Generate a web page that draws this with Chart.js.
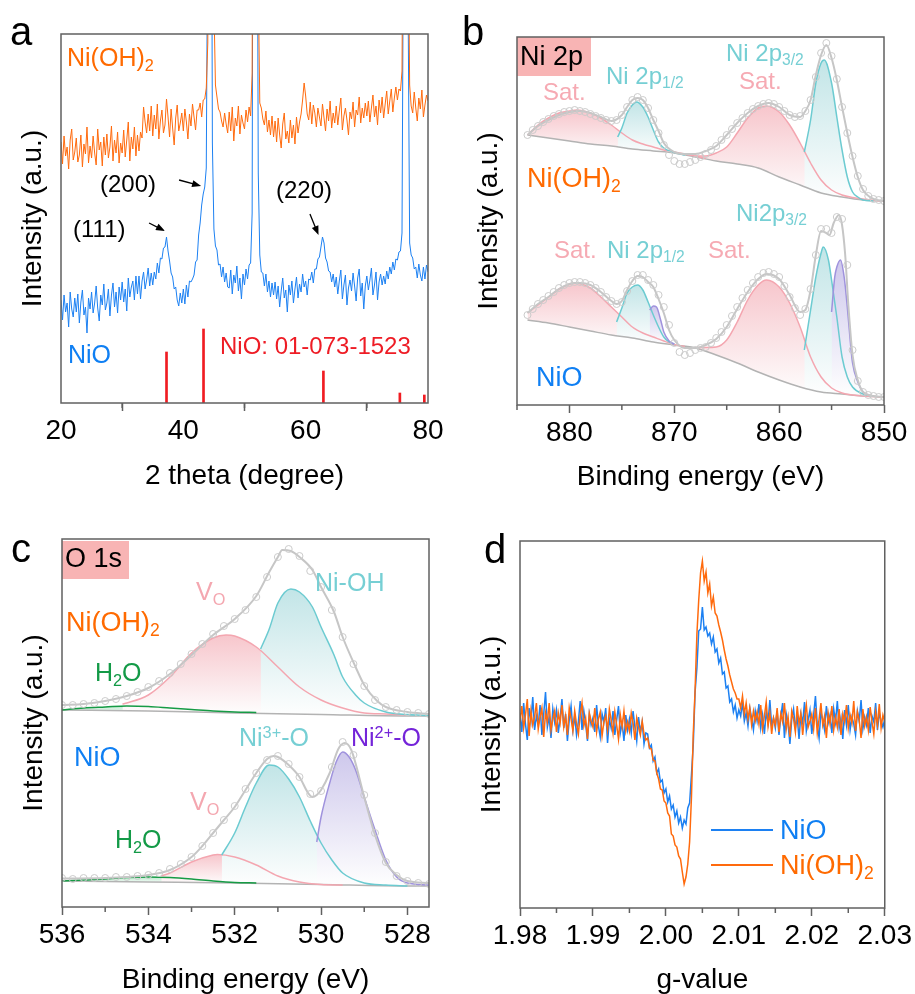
<!DOCTYPE html>
<html>
<head>
<meta charset="utf-8">
<script src="https://cdn.jsdelivr.net/npm/chart.js@4.4.0/dist/chart.umd.min.js"></script>
<style>
body { margin: 0; background: #fff; }
#fig { position: relative; width: 915px; height: 994px; font-family: "Liberation Sans", Arial, sans-serif; overflow: hidden; }
canvas { position: absolute; left: 0; top: 0; }
.t { position: absolute; line-height: 1; white-space: nowrap; }
.t sub, .t sup { font-size: 0.65em; line-height: 0; position: relative; vertical-align: baseline; }
.t sub { top: 0.28em; }
.t sup { top: -0.5em; }
.box { position: absolute; background: #f8b4b4; }
.leg { position: absolute; height: 2px; }
</style>
</head>
<body>
<div id="fig">
  <div class="box" style="left:517px;top:37px;width:74px;height:39px;"></div>
  <div class="box" style="left:62px;top:541px;width:67px;height:38px;"></div>
  <canvas id="chartA" width="915" height="994"></canvas>
  <canvas id="chartB" width="915" height="994"></canvas>
  <canvas id="chartC" width="915" height="994"></canvas>
  <canvas id="chartD" width="915" height="994"></canvas>

  <!-- panel a -->
  <div class="t" style="left:10px;top:11px;font-size:40px;color:#000;">a</div>
  <div class="t" style="left:67px;top:45px;font-size:25px;color:#ff6a00;">Ni(OH)<sub>2</sub></div>
  <div class="t" style="left:100px;top:172px;font-size:24px;color:#000;">(200)</div>
  <div class="t" style="left:276px;top:178px;font-size:24px;color:#000;">(220)</div>
  <div class="t" style="left:73px;top:217px;font-size:24px;color:#000;">(111)</div>
  <div class="t" style="left:68px;top:342px;font-size:25px;color:#0f7ff3;">NiO</div>
  <div class="t" style="left:220px;top:334px;font-size:24px;color:#ee1c25;">NiO: 01-073-1523</div>

  <!-- panel b -->
  <div class="t" style="left:462px;top:11px;font-size:40px;color:#000;">b</div>
  <div class="t" style="left:520px;top:43px;font-size:27px;color:#000;">Ni 2p</div>
  <div class="t" style="left:543px;top:80px;font-size:24px;color:#f6aab3;">Sat.</div>
  <div class="t" style="left:606px;top:64px;font-size:24px;color:#76cfd4;">Ni 2p<sub>1/2</sub></div>
  <div class="t" style="left:726px;top:41px;font-size:24px;color:#76cfd4;">Ni 2p<sub>3/2</sub></div>
  <div class="t" style="left:739px;top:69px;font-size:24px;color:#f6aab3;">Sat.</div>
  <div class="t" style="left:527px;top:165px;font-size:27px;color:#ff6a00;">Ni(OH)<sub>2</sub></div>
  <div class="t" style="left:736px;top:201px;font-size:24px;color:#76cfd4;">Ni2p<sub>3/2</sub></div>
  <div class="t" style="left:554px;top:238px;font-size:24px;color:#f6aab3;">Sat.</div>
  <div class="t" style="left:607px;top:238px;font-size:24px;color:#76cfd4;">Ni 2p<sub>1/2</sub></div>
  <div class="t" style="left:708px;top:238px;font-size:24px;color:#f6aab3;">Sat.</div>
  <div class="t" style="left:536px;top:364px;font-size:27px;color:#0f7ff3;">NiO</div>

  <!-- panel c -->
  <div class="t" style="left:11px;top:528px;font-size:40px;color:#000;">c</div>
  <div class="t" style="left:65px;top:545px;font-size:27px;color:#000;">O 1s</div>
  <div class="t" style="left:196px;top:579px;font-size:25px;color:#f4a7b0;">V<sub>O</sub></div>
  <div class="t" style="left:315px;top:570px;font-size:25px;color:#76cfd4;">Ni-OH</div>
  <div class="t" style="left:66px;top:609px;font-size:27px;color:#ff6a00;">Ni(OH)<sub>2</sub></div>
  <div class="t" style="left:95px;top:660px;font-size:25px;color:#139a47;">H<sub>2</sub>O</div>
  <div class="t" style="left:239px;top:725px;font-size:25px;color:#76cfd4;">Ni<sup>3+</sup>-O</div>
  <div class="t" style="left:351px;top:725px;font-size:25px;color:#7424d9;">Ni<sup>2+</sup>-O</div>
  <div class="t" style="left:74px;top:744px;font-size:27px;color:#0f7ff3;">NiO</div>
  <div class="t" style="left:190px;top:789px;font-size:25px;color:#f4a7b0;">V<sub>O</sub></div>
  <div class="t" style="left:115px;top:827px;font-size:25px;color:#139a47;">H<sub>2</sub>O</div>

  <!-- panel d -->
  <div class="t" style="left:484px;top:529px;font-size:40px;color:#000;">d</div>
  <div class="leg" style="left:711px;top:829px;width:62px;background:#1c80f2;"></div>
  <div class="leg" style="left:711px;top:864px;width:62px;background:#ff6a0d;"></div>
  <div class="t" style="left:780px;top:817px;font-size:27px;color:#0f7ff3;">NiO</div>
  <div class="t" style="left:780px;top:852px;font-size:27px;color:#ff6a00;">Ni(OH)<sub>2</sub></div>
</div>

<script>
// ---------- panel a : XRD (2 theta 20..80, step 0.25) ----------
const xrdStart = 20, xrdStep = 0.25;
const xrdNiOH = [
  261, 239, 267, 247, 256, 234, 263, 274, 243, 251,
  265, 241, 248, 268, 236, 259, 249, 276, 240, 257,
  245, 267, 250, 238, 274, 253, 261, 237, 266, 248,
  269, 245, 256, 277, 242, 263, 250, 271, 240, 260,
  250, 273, 246, 263, 281, 242, 266, 254, 276, 247,
  268, 252, 271, 265, 296, 281, 270, 289, 272, 297,
  267, 288, 274, 299, 264, 282, 293, 270, 278, 304,
  286, 266, 294, 275, 258, 285, 298, 272, 280, 290,
  272, 294, 281, 264, 289, 277, 299, 286, 273, 293,
  293, 300, 286, 303, 304, 315, 360, 900, 900, 700,
  400, 318, 306, 294, 291, 282, 276, 290, 279, 270,
  291, 272, 296, 262, 285, 277, 297, 269, 288, 280,
  274, 293, 281, 296, 287, 330, 900, 900, 900, 420,
  300, 295, 284, 278, 292, 271, 283, 268, 287, 266,
  282, 261, 285, 268, 255, 279, 290, 264, 272, 260,
  283, 265, 278, 259, 286, 270, 281, 289, 303, 320,
  307, 289, 283, 301, 279, 298, 290, 276, 295, 286,
  277, 299, 285, 272, 294, 282, 302, 275, 290, 280,
  297, 278, 292, 305, 273, 287, 295, 283, 268, 291,
  284, 301, 276, 293, 288, 306, 280, 295, 285, 300,
  287, 302, 281, 295, 308, 286, 297, 278, 303, 290,
  306, 285, 299, 312, 289, 302, 314, 291, 305, 316,
  303, 314, 312, 332, 600, 900, 900, 500, 318, 297,
  290, 311, 295, 282, 305, 294, 313, 286, 298, 308,
  302
];
const xrdNiO = [
  103, 83, 108, 91, 100, 76, 111, 94, 86, 105,
  91, 109, 80, 101, 113, 88, 96, 70, 105, 94,
  111, 90, 100, 117, 95, 82, 108, 98, 119, 93,
  100, 114, 87, 108, 120, 96, 111, 90, 116, 103,
  121, 101, 114, 92, 125, 106, 116, 122, 103, 127,
  109, 127, 104, 122, 131, 114, 123, 135, 117, 130,
  118, 131, 124, 140, 130, 145, 144, 155, 156, 166,
  152, 142, 130, 126, 114, 116, 103, 97, 110, 100,
  114, 99, 118, 106, 122, 121, 124, 128, 141, 143,
  168, 180, 198, 209, 216, 235, 500, 900, 800, 260,
  174, 157, 153, 138, 139, 126, 136, 121, 130, 116,
  115, 133, 109, 128, 120, 137, 112, 125, 104, 129,
  118, 134, 124, 138, 140, 190, 900, 900, 700, 230,
  148, 131, 130, 117, 129, 111, 122, 106, 120, 108,
  121, 104, 117, 96, 112, 125, 105, 113, 91, 118,
  108, 122, 100, 114, 126, 105, 119, 111, 129, 116,
  122, 108, 124, 123, 131, 120, 134, 134, 144, 146,
  156, 166, 160, 145, 141, 132, 131, 121, 129, 116,
  126, 109, 122, 133, 104, 118, 128, 98, 115, 123,
  112, 130, 117, 102, 125, 134, 107, 120, 94, 117,
  127, 113, 123, 135, 108, 118, 131, 103, 121, 129,
  118, 127, 119, 132, 124, 136, 129, 141, 133, 144,
  143, 151, 152, 170, 500, 900, 900, 400, 160, 148,
  145, 134, 136, 125, 139, 128, 122, 136, 124, 138,
  131
];
const refPos = [37.25, 43.3, 62.9, 75.4, 79.4];
const refHeight = [51, 74, 32, 10, 8];
const xrdArrows = [[39.3, 223, 42.9, 217], [34.4, 180, 37.0, 172], [60.7, 189, 62.1, 168]];
const xrdMajor = [20, 40, 60, 80];
const xrdMinor = [30, 50, 70];

// ---------- panel b : Ni 2p XPS ----------
const niOHBg = [[884,270],[882,267],[880,264],[878,261],[876,259],[874,256],[872,254],[870,252],[868,248],[866,244],[864,241],[862,237],[860,228],[858,220],[856,212],[854,208],[852,205],[850,204]];
const niOHSat1 = [[884,270],[883,280],[882,287],[881,292],[880,294],[879.3,295],[878,292],[877,287],[876,280],[875,272],[874,265],[873,261],[872,258],[871,255],[870,253],[869,251],[868,249],[867,246.5]];
const niOH2p12 = [[875.4,268],[875,277],[874.5,292],[874,300],[873.6,303],[873,298],[872.5,288],[872,275],[871.5,263],[871,257],[870,252.5],[869,250]];
const niOHSat2 = [[868,249],[867,249],[866,252],[865,258],[864,272],[863,287],[862,297],[861.2,299],[860,293],[859,280],[858,262],[857,242],[856,225],[855,215],[854,210],[853,207.5],[852,206],[851,204.5],[850,204]];
const niOH2p32 = [[857.6,253],[857,285],[856.5,322],[856,342],[855.7,345],[855,322],[854.5,288],[854,255],[853.5,228],[853,213],[852.5,208],[852,205],[851,204]];
const niOHFit = [[884,270],[883,279],[882,285],[881,290],[880,293],[879,294],[878,292],[877,288],[876,284],[875,290],[874.5,298],[874,305],[873.5,307],[873,305],[872.5,297],[872,285],[871.5,274],[871,262],[870,253],[869,251],[868,251],[867,254],[866,259],[865,270],[864,282],[863,292],[862,299],[861,302],[860,298],[859,290],[858,288],[857.5,294],[857,305],[856.5,330],[856,350],[855.5,360],[855,347],[854.5,325],[854,298],[853.5,272],[853,248],[852.5,228],[852,215],[851,206],[850,204]];
const niOHRaw = [[884,270],[883.5,275],[883,279],[882.5,283],[882,286],[881.5,289],[881,291],[880.5,293],[880,294],[879.5,295],[879,294],[878.5,293],[878,291],[877.5,289],[877,287],[876.5,285],[876,284],[875.5,285],[875,290],[874.5,298],[874,305],[873.5,308],[873,305],[872.5,297],[872,285],[871.5,272],[871,260],[870.5,250],[870,244],[869.5,241],[869,241],[868.5,243],[868,245],[867.5,248],[867,251],[866.5,255],[866,259],[865.5,265],[865,270],[864.5,276],[864,282],[863.5,287],[863,292],[862.5,296],[862,299],[861.5,301],[861,302],[860.5,301],[860,298],[859.5,294],[859,290],[858.5,288],[858,289],[857.5,294],[857,305],[856.5,328],[856,352],[855.5,362],[855,349],[854.5,326],[854,298],[853.5,272],[853,249],[852.5,229],[852,216],[851.5,209],[851,206],[850.5,205],[850,204]];

const nioBg = [[884,85],[882,82],[880,78],[878,74],[876,70],[874,67],[872,63],[870,60],[868,57],[866,50],[864,42],[862,33],[860,25],[858,18],[856,13],[854,11],[852,9],[850,8]];
const nioSat1 = [[884,92],[883,100],[882,108],[881,116],[880,121],[879.5,122],[879,121.5],[878,117],[877,108],[876,98],[875,88],[874,78],[873,72],[872,68],[871,64],[870,60.5],[869,58.5]];
const nio2p12 = [[875.5,83],[875,97],[874.5,112],[874,118],[873.5,120],[873,115],[872.5,103],[872,90],[871.5,78],[871,68],[870.5,63],[870,61]];
const nioSmall1 = [[872.35,95],[872,99],[871.7,98],[871.3,85],[871,73],[870.5,64],[870,61]];
const nioSat2 = [[868,57.5],[867,57.5],[866,58],[865,65],[864,83],[863,105],[862,120],[861.2,125],[860,118],[859,102],[858,78],[857,48],[856,28],[855,17],[854,12],[853,10],[852,9],[850,8]];
const nio2p32 = [[857.6,55],[857,95],[856.5,128],[856,152],[855.8,158],[855.3,145],[855,125],[854.5,88],[854,48],[853.5,28],[853,18],[852,11],[851,9]];
const nioSmall2 = [[855,93],[854.7,128],[854.5,138],[854.15,145],[853.8,128],[853.5,98],[853.2,62],[853,42],[852.5,23],[852,13],[851.5,10]];
const nioFit = [[884,92],[883,101],[882,108],[881,116],[880,121],[879.5,122],[879,122],[878,120],[877,113],[876,104],[875.5,101],[875,104],[874.5,115],[874,124],[873.5,129],[873,128],[872.5,123],[872,118],[871.5,106],[871,92],[870.5,75],[870,65],[869,57],[868,57],[867,60],[866,66],[865,78],[864,96],[863,113],[862,126],[861.2,131],[860,126],[859,110],[858,93],[857.5,95],[857,115],[856.5,150],[856,174],[855.5,172],[855.2,170],[854.8,182],[854.3,190],[854,180],[853.7,150],[853.4,100],[853,50],[852.5,25],[852,13],[851,9],[850,8]];
const nioRaw = [[884,90],[883.5,96],[883,101],[882.5,105],[882,109],[881.5,113],[881,117],[880.5,120],[880,122],[879.5,123],[879,123],[878.5,122],[878,120],[877.5,117],[877,113],[876.5,108],[876,104],[875.5,101],[875,103],[874.5,114],[874,124],[873.5,130],[873,130],[872.5,125],[872,120],[871.5,110],[871,98],[870.5,80],[870,62],[869.5,53],[869,50],[868.5,52],[868,55],[867.5,57],[867,58],[866.5,62],[866,67],[865.5,73],[865,80],[864.5,89],[864,98],[863.5,107],[863,115],[862.5,122],[862,128],[861.5,132],[861,133],[860.5,131],[860,128],[859.5,119],[859,108],[858.5,97],[858,90],[857.5,96],[857,116],[856.5,150],[856,176],[855.5,176],[855,172],[854.5,188],[854,186],[853.5,140],[853,55],[852.5,24],[852,13],[851.5,10],[851,9],[850.5,8],[850,8]];
const ni2pMajor = [880, 870, 860, 850];
const ni2pMinor = [885, 875, 865, 855];

// ---------- panel c : O 1s XPS ----------
const o1sOHBg = [[536,197],[534,196],[532,194],[530,192.5],[528,191],[527.5,191]];
const o1sOHWater = [[536,197],[535.5,199],[535,200],[534.5,201],[534,200.5],[533.5,199],[533,197.5],[532.5,196],[532,195],[531.5,194.5]];
const o1sOHVac = [[534.6,203],[534.5,204],[534,212],[533.5,230],[533,254],[532.5,269],[532.2,272],[532,271],[531.5,260],[531,240],[530.5,220],[530,207],[529.5,199],[529,194],[528.5,193],[528,192]];
const o1sOHNiOH = [[531.4,258],[531.2,278],[531,304],[530.7,318],[530.5,315],[530.2,300],[530,280],[529.7,252],[529.5,230],[529.2,212],[529,204],[528.5,195],[528,192.5],[527.5,191.5]];
const o1sOHFit = [[536,202],[535.5,203],[535,206],[534.5,211],[534,219],[533.5,233],[533,252],[532.5,272],[532,288],[531.5,311],[531.2,335],[531,350],[530.9,357],[530.7,356],[530.5,350],[530.2,337],[530,320],[529.7,295],[529.5,270],[529.2,240],[529,222],[528.7,206],[528.5,200],[528,195],[527.5,193]];
const o1sOHRaw = [[536,202],[535.75,202],[535.5,203],[535.25,204],[535,206],[534.75,208],[534.5,211],[534.25,215],[534,220],[533.75,226],[533.5,234],[533.25,243],[533,253],[532.75,263],[532.5,273],[532.25,281],[532,288],[531.75,297],[531.5,310],[531.25,330],[531,350],[530.75,358],[530.5,351],[530.25,336],[530,320],[529.75,297],[529.5,270],[529.25,243],[529,221],[528.75,207],[528.5,200],[528.25,197],[528,195],[527.75,194],[527.5,193]];

const o1sNiOBg = [[536,26],[534,25],[532,24],[530,22.5],[528,21],[527.5,21]];
const o1sNiOWater = [[536,26],[535.5,27],[535,28],[534.5,29.5],[534,30],[533.5,29.5],[533,28],[532.5,26],[532,24.5],[531.5,24]];
const o1sNiOVac = [[533.7,31],[533.5,34],[533,45],[532.5,52],[532.4,52.5],[532,50],[531.5,42],[531,31],[530.5,25],[530,22.5],[529.5,22]];
const o1sNiONi3 = [[532.3,52],[532,74],[531.75,100],[531.5,124],[531.2,142],[531,140],[530.75,128],[530.5,110],[530.25,86],[530,64],[529.75,47],[529.5,34],[529,24],[528.5,22],[528,21]];
const o1sNiONi2 = [[530.1,65],[530,90],[529.8,124],[529.65,145],[529.5,155],[529.35,150],[529.2,137],[529,110],[528.75,77],[528.5,47],[528.25,30],[528,24],[527.5,22]];
const o1sNiOFit = [[536,28.5],[535,29],[534.5,30],[534,32],[533.5,37],[533,50],[532.75,61],[532.5,74],[532.25,87],[532,100],[531.75,117],[531.5,134],[531.25,148],[531.1,151],[531,150],[530.75,142],[530.5,130],[530.3,114],[530.2,110],[530.1,112],[530,117],[529.8,134],[529.6,158],[529.45,164],[529.3,157],[529,110],[528.75,72],[528.5,44],[528.25,32],[528,26],[527.5,24]];
const o1sNiORaw = [[536,29],[535.75,28],[535.5,29],[535.25,29],[535,29],[534.75,30],[534.5,30],[534.25,31],[534,32],[533.75,34],[533.5,38],[533.25,43],[533,50],[532.75,61],[532.5,74],[532.25,87],[532,101],[531.75,118],[531.5,134],[531.25,147],[531,151],[530.75,143],[530.5,130],[530.25,113],[530,116],[529.75,140],[529.5,165],[529.25,152],[529,112],[528.75,74],[528.5,45],[528.25,31],[528,26],[527.75,24],[527.5,23]];
const o1sMajor = [536, 534, 532, 530, 528];
const o1sMinor = [535, 533, 531, 529];

// ---------- panel d : EPR (g 1.98..2.03, step 0.00025) ----------
const eprStart = 1.98, eprStep = 0.00025;
const eprNiO = [
  195, 176, 205, 184, 168, 200, 187, 211, 178, 192,
  183, 203, 173, 194, 216, 181, 191, 170, 199, 186,
  198, 175, 190, 209, 180, 194, 167, 188, 202, 178,
  192, 173, 186, 207, 178, 197, 184, 167, 194, 183,
  190, 176, 203, 182, 171, 194, 186, 200, 165, 189,
  180, 197, 173, 188, 202, 175, 185, 167, 193, 178,
  189, 175, 197, 181, 167, 191, 176, 186, 164, 175,
  174, 160, 163, 147, 151, 135, 139, 126, 128, 115,
  119, 106, 112, 99, 103, 91, 97, 85, 91, 80,
  88, 84, 100, 105, 133, 163, 216, 240, 277, 279,
  301, 278, 281, 272, 275, 264, 271, 256, 259, 245,
  250, 234, 236, 220, 222, 206, 209, 196, 203, 190,
  198, 192, 205, 187, 195, 182, 200, 190, 178, 197,
  187, 204, 180, 193, 174, 196, 185, 208, 182, 190,
  180, 197, 173, 191, 205, 170, 194, 184, 164, 189,
  199, 180, 191, 169, 194, 185, 206, 177, 188, 198,
  174, 193, 212, 183, 170, 196, 188, 178, 202, 185,
  193, 175, 199, 186, 207, 180, 190, 169, 198, 183,
  203, 178, 191, 184, 173, 197, 187, 208, 179, 191,
  183, 200, 175, 192, 186, 205, 178, 195, 187, 181,
  189
];
const eprNiOH = [
  186, 202, 180, 193, 209, 172, 197, 183, 191, 205,
  179, 191, 200, 171, 195, 186, 205, 178, 189, 197,
  176, 195, 185, 203, 181, 192, 173, 200, 189, 177,
  197, 184, 174, 193, 205, 182, 190, 169, 195, 187,
  181, 200, 176, 189, 196, 172, 186, 192, 178, 199,
  188, 175, 196, 183, 169, 193, 181, 197, 177, 186,
  177, 195, 185, 168, 190, 181, 173, 187, 174, 168,
  170, 160, 159, 148, 147, 135, 129, 119, 118, 107,
  105, 95, 92, 74, 72, 63, 61, 52, 49, 36,
  24, 31, 44, 66, 110, 174, 218, 274, 308, 335,
  347, 327, 336, 315, 324, 302, 311, 295, 292, 283,
  276, 268, 258, 249, 242, 233, 226, 219, 215, 209,
  209, 200, 212, 194, 205, 189, 200, 183, 197, 187,
  196, 184, 203, 179, 192, 206, 182, 195, 174, 190,
  183, 200, 176, 194, 186, 205, 179, 191, 171, 197,
  189, 176, 202, 184, 195, 173, 191, 203, 181, 187,
  194, 179, 200, 175, 189, 205, 183, 192, 170, 195,
  184, 202, 178, 191, 181, 199, 173, 194, 186, 203,
  180, 193, 185, 207, 177, 196, 188, 170, 199, 182,
  191, 178, 201, 186, 174, 196, 183, 204, 180, 193,
  186
];
const eprMajor = [1.98, 1.99, 2.00, 2.01, 2.02, 2.03];
const eprMinor = [1.985, 1.995, 2.005, 2.015, 2.025];

// ---------- styling ----------
const FONT = "'Liberation Sans', Arial, sans-serif";
const FRAME = '#606060';
const ORANGE = '#ff6a0d';
const BLUE = '#1c80f2';
const PINK = '#f4a6b0', PINK_TOP = 'rgb(247,198,204)';
const CYAN = '#6ccbd1', CYAN_TOP = 'rgb(194,229,231)';
const PURPLE = '#9f92dd', PURPLE_TOP = 'rgb(206,200,236)';
const GREEN = '#169b45', GREEN_TOP = 'rgb(186,234,204)';
const BG_GRAY = '#b3b3b3';
const FIT_GRAY = '#c6c6c6';
const RAW_GRAY = '#cbcbcb';

Chart.defaults.font.family = FONT;
Chart.defaults.color = '#000';

// opaque fill: vertical gradient from the curve's top colour down to white
function shade(top) {
    return function (ctx) {
        const chart = ctx.chart;
        if (!chart.chartArea) return top;
        const ys = ctx.dataset.data.map(p => p[1]);
        const yScale = chart.scales.y;
        const g = chart.ctx.createLinearGradient(0, yScale.getPixelForValue(Math.max(...ys)), 0, yScale.getPixelForValue(Math.min(...ys)));
        g.addColorStop(0, top);
        g.addColorStop(1, 'rgb(254,254,254)');
        return g;
    };
}

function plain(data, color, width, order) {
    return { data, borderColor: color, borderWidth: width, pointRadius: 0, fill: false, order, cubicInterpolationMode: 'monotone' };
}
function peak(data, color, top, bgIndex, order) {
    return { data, borderColor: color, borderWidth: 1.5, pointRadius: 0, cubicInterpolationMode: 'monotone',
        fill: bgIndex, backgroundColor: shade(top), order };
}
function raw(data, order) {
    return { data, showLine: false, fill: false, pointRadius: 3.5, pointBorderWidth: 1,
        pointBorderColor: RAW_GRAY, pointBackgroundColor: 'rgba(255,255,255,0)', order };
}

const framePlugin = {
    id: 'frame',
    afterDatasetsDraw(chart, args, opts) {
        const { ctx, chartArea: a } = chart;
        const x = chart.scales.x;
        ctx.save();
        ctx.strokeStyle = FRAME;
        ctx.lineWidth = 1.5;
        ctx.strokeRect(a.left, a.top, a.right - a.left, a.bottom - a.top);
        (opts.minor || []).forEach(v => {
            const px = x.getPixelForValue(v);
            ctx.beginPath();
            ctx.moveTo(px, a.bottom);
            ctx.lineTo(px, a.bottom + 5);
            ctx.stroke();
        });
        ctx.fillStyle = '#000';
        ctx.strokeStyle = '#000';
        ctx.lineWidth = 1.3;
        (opts.arrows || []).forEach(r => {
            const x0 = x.getPixelForValue(r[0]), y0 = chart.scales.y.getPixelForValue(r[1]);
            const x1 = x.getPixelForValue(r[2]), y1 = chart.scales.y.getPixelForValue(r[3]);
            const ang = Math.atan2(y1 - y0, x1 - x0);
            ctx.beginPath();
            ctx.moveTo(x0, y0);
            ctx.lineTo(x1 - 6 * Math.cos(ang), y1 - 6 * Math.sin(ang));
            ctx.stroke();
            ctx.beginPath();
            ctx.moveTo(x1, y1);
            ctx.lineTo(x1 - 9 * Math.cos(ang) + 3.5 * Math.sin(ang), y1 - 9 * Math.sin(ang) - 3.5 * Math.cos(ang));
            ctx.lineTo(x1 - 9 * Math.cos(ang) - 3.5 * Math.sin(ang), y1 - 9 * Math.sin(ang) + 3.5 * Math.cos(ang));
            ctx.closePath();
            ctx.fill();
        });
        ctx.restore();
    }
};

function makePanel(id, box, xConf, yMax, datasets, extra) {
    const axisH = xConf.axisH;
    return new Chart(document.getElementById(id), {
        type: 'line',
        data: { datasets },
        plugins: [framePlugin],
        options: {
            responsive: false,
            animation: false,
            events: [],
            layout: { padding: { left: box.l - 60, top: box.t, right: 915 - box.r, bottom: 994 - box.b - axisH } },
            plugins: {
                legend: { display: false },
                tooltip: { enabled: false },
                filler: { drawTime: 'beforeDatasetsDraw' },
                frame: Object.assign({ minor: xConf.minor }, extra || {})
            },
            scales: {
                x: {
                    type: 'linear', min: xConf.min, max: xConf.max, reverse: !!xConf.reverse, offset: false,
                    afterBuildTicks: s => { s.ticks = xConf.major.map(v => ({ value: v })); },
                    afterFit: s => { s.height = axisH; },
                    ticks: { autoSkip: false, maxRotation: 0, minRotation: 0, padding: 3, color: '#000',
                        font: { family: FONT, size: 28 }, callback: xConf.fmt },
                    grid: { display: true, drawOnChartArea: false, drawTicks: true, tickLength: 8, tickWidth: 1.5, tickColor: FRAME, color: FRAME },
                    border: { display: false },
                    title: { display: true, text: xConf.title, color: '#000', font: { family: FONT, size: 28, lineHeight: 1 }, padding: { top: 0, bottom: 0 } }
                },
                y: {
                    type: 'linear', min: 0, max: yMax,
                    afterFit: s => { s.width = 60; },
                    ticks: { display: false },
                    grid: { display: false },
                    border: { display: false },
                    title: { display: true, text: 'Intensity (a.u.)', color: '#000', font: { family: FONT, size: 28, lineHeight: 1 }, padding: { top: 18, bottom: 0 } }
                }
            }
        }
    });
}

// panel a
const gridXrd = (vals) => vals.map((v, i) => [xrdStart + i * xrdStep, v]);
makePanel('chartA', { l: 61, t: 34, r: 428, b: 403 },
    { min: 20, max: 80, major: xrdMajor, minor: xrdMinor, title: '2 theta (degree)', axisH: 87, fmt: v => String(v) },
    369,
    [
        { type: 'bar', data: refPos.map((x, i) => ({ x: x, y: refHeight[i] })), backgroundColor: '#f01c22', barThickness: 2, order: 5 },
        { data: gridXrd(xrdNiO), borderColor: BLUE, borderWidth: 1, pointRadius: 0, fill: false, order: 2 },
        { data: gridXrd(xrdNiOH), borderColor: ORANGE, borderWidth: 1, pointRadius: 0, fill: false, order: 1 }
    ],
    { arrows: xrdArrows });

// panel b
makePanel('chartB', { l: 517, t: 37, r: 884, b: 405 },
    { min: 850, max: 885, reverse: true, major: ni2pMajor, minor: ni2pMinor, title: 'Binding energy (eV)', axisH: 86, fmt: v => String(v) },
    368,
    [
        plain(niOHBg, BG_GRAY, 1.5, 9),
        peak(niOHSat1, PINK, PINK_TOP, 0, 8),
        peak(niOHSat2, PINK, PINK_TOP, 0, 8),
        peak(niOH2p12, CYAN, CYAN_TOP, 0, 7),
        peak(niOH2p32, CYAN, CYAN_TOP, 0, 7),
        plain(niOHFit, FIT_GRAY, 2, 3),
        raw(niOHRaw, 2),
        plain(nioBg, BG_GRAY, 1.5, 9),
        peak(nioSat1, PINK, PINK_TOP, 7, 8),
        peak(nioSat2, PINK, PINK_TOP, 7, 8),
        peak(nio2p12, CYAN, CYAN_TOP, 7, 7),
        peak(nio2p32, CYAN, CYAN_TOP, 7, 7),
        peak(nioSmall1, PURPLE, PURPLE_TOP, 7, 6),
        peak(nioSmall2, PURPLE, PURPLE_TOP, 7, 6),
        plain(nioFit, FIT_GRAY, 2, 3),
        raw(nioRaw, 2)
    ]);

// panel c
makePanel('chartC', { l: 62, t: 539, r: 429, b: 907 },
    { min: 527.5, max: 536, reverse: true, major: o1sMajor, minor: o1sMinor, title: 'Binding energy (eV)', axisH: 87, fmt: v => String(v) },
    368,
    [
        plain(o1sOHBg, BG_GRAY, 1.5, 9),
        peak(o1sOHWater, GREEN, GREEN_TOP, 0, 8),
        peak(o1sOHVac, PINK, PINK_TOP, 0, 7),
        peak(o1sOHNiOH, CYAN, CYAN_TOP, 0, 6),
        plain(o1sOHFit, FIT_GRAY, 2, 3),
        raw(o1sOHRaw, 2),
        plain(o1sNiOBg, BG_GRAY, 1.5, 9),
        peak(o1sNiOWater, GREEN, GREEN_TOP, 6, 8),
        peak(o1sNiOVac, PINK, PINK_TOP, 6, 7),
        peak(o1sNiONi3, CYAN, CYAN_TOP, 6, 6),
        peak(o1sNiONi2, PURPLE, PURPLE_TOP, 6, 5),
        plain(o1sNiOFit, FIT_GRAY, 2, 3),
        raw(o1sNiORaw, 2)
    ]);

// panel d
const gridEpr = (vals) => vals.map((v, i) => [eprStart + i * eprStep, v]);
makePanel('chartD', { l: 520, t: 541, r: 886, b: 908 },
    { min: 1.98, max: 2.03, major: eprMajor, minor: eprMinor, title: 'g-value', axisH: 86, fmt: v => Number(v).toFixed(2) },
    367,
    [
        { data: gridEpr(eprNiO), borderColor: BLUE, borderWidth: 1.5, pointRadius: 0, fill: false, order: 2 },
        { data: gridEpr(eprNiOH), borderColor: ORANGE, borderWidth: 1.5, pointRadius: 0, fill: false, order: 1 }
    ]);
</script>
</body>
</html>
